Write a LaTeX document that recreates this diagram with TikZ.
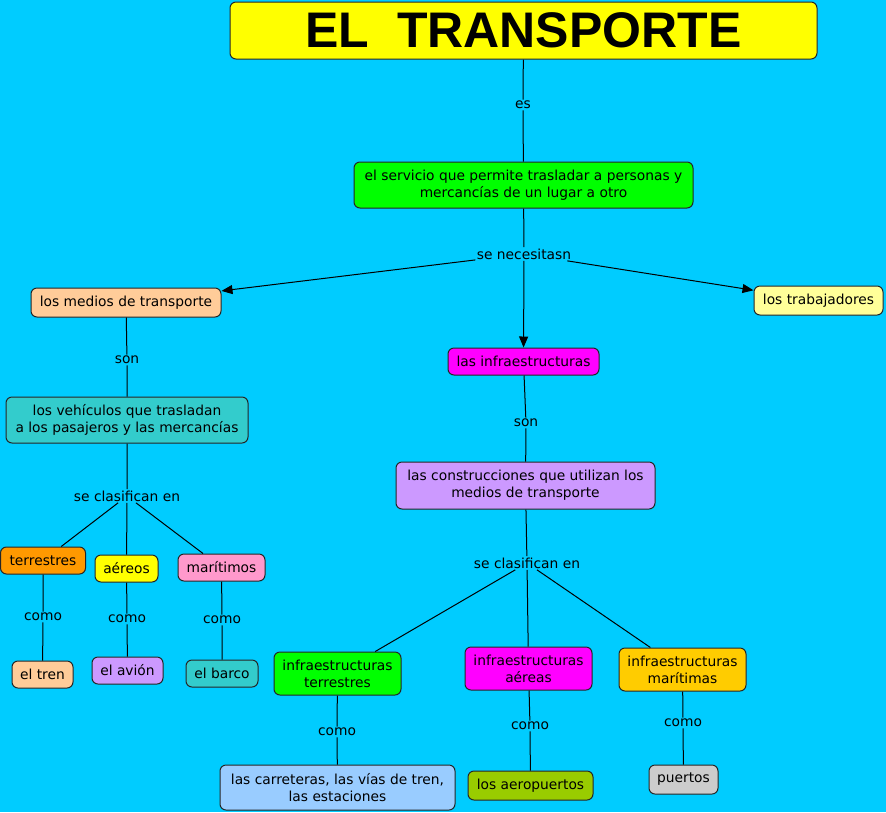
\documentclass[tikz,border=0pt]{standalone}
\usepackage{fontspec}
\setmainfont{DejaVu Sans}
\newfontfamily\titlefont{Liberation Sans}
\usetikzlibrary{arrows.meta}

\definecolor{fondo}{RGB}{0,204,255}
\definecolor{amarillo}{RGB}{255,255,0}
\definecolor{verde}{RGB}{0,255,0}
\definecolor{salmon}{RGB}{255,204,153}
\definecolor{crema}{RGB}{255,255,153}
\definecolor{magenta}{RGB}{255,0,255}
\definecolor{turquesa}{RGB}{51,204,204}
\definecolor{lila}{RGB}{204,153,255}
\definecolor{naranja}{RGB}{255,153,0}
\definecolor{rosa}{RGB}{255,153,204}
\definecolor{celeste}{RGB}{153,204,255}
\definecolor{oliva}{RGB}{153,204,0}
\definecolor{dorado}{RGB}{255,204,0}
\definecolor{gris}{RGB}{204,204,204}

\begin{document}
\begin{tikzpicture}[x=1pt, y=-1pt, line width=1pt,
    concepto/.style={draw=black!85, rounded corners=6pt, align=center,
        inner xsep=5pt, inner ysep=3pt, minimum height=27pt,
        font=\fontsize{13.8}{16.8}\selectfont},
    enlace/.style={inner sep=1pt, font=\fontsize{13.8}{16.8}\selectfont},
    flecha/.style={-{Triangle[length=11pt,width=9pt]}}]

    % Draw background
    \fill[fondo] (0,0) rectangle (886,812);
    \useasboundingbox (0,0) rectangle (886,812);

    % Draw title and first concepts
    \node[concepto, fill=amarillo, minimum width=587, minimum height=57,
        font=\titlefont\fontsize{50}{50}\selectfont\bfseries] (titulo) at (523.5,30.5) {EL\ \ TRANSPORTE};
    \node[concepto, fill=verde, minimum width=339, minimum height=46] (servicio) at (523.5,185)
        {el servicio que permite trasladar a personas y\\mercancías de un lugar a otro};
    \node[concepto, fill=salmon, minimum width=190, minimum height=29] (medios) at (126,302.5) {los medios de transporte};
    \node[concepto, fill=crema, minimum width=129, minimum height=29] (trabajadores) at (818.5,300.5) {los trabajadores};
    \node[concepto, fill=magenta, minimum width=151] (infra) at (523.5,361.5) {las infraestructuras};

    % Left branch: vehicles
    \node[concepto, fill=turquesa, minimum width=242, minimum height=46] (vehiculos) at (127,420)
        {los vehículos que trasladan\\a los pasajeros y las mercancías};
    \node[concepto, fill=naranja, minimum width=85] (terrestres) at (43,560.5) {terrestres};
    \node[concepto, fill=amarillo, minimum width=63] (aereos) at (126.5,568.5) {aéreos};
    \node[concepto, fill=rosa, minimum width=87] (maritimos) at (221.5,567.5) {marítimos};
    \node[concepto, fill=salmon, minimum width=61] (tren) at (42.5,674.5) {el tren};
    \node[concepto, fill=lila, minimum width=71] (avion) at (127.5,670.5) {el avión};
    \node[concepto, fill=turquesa, minimum width=72] (barco) at (222,673.5) {el barco};

    % Right branch: infrastructures
    \node[concepto, fill=lila, minimum width=259, minimum height=47] (construcciones) at (525.5,485.5)
        {las construcciones que utilizan los\\medios de transporte};
    \node[concepto, fill=verde, minimum width=127, minimum height=43] (iterr) at (337.5,673.5) {infraestructuras\\terrestres};
    \node[concepto, fill=magenta, minimum width=127, minimum height=43] (iaer) at (528.5,668.5) {infraestructuras\\aéreas};
    \node[concepto, fill=dorado, minimum width=127, minimum height=43] (imar) at (682.5,669.5) {infraestructuras\\marítimas};
    \node[concepto, fill=celeste, minimum width=235, minimum height=45] (carreteras) at (337.5,787.5)
        {las carreteras, las vías de tren,\\las estaciones};
    \node[concepto, fill=oliva, minimum width=125, minimum height=29] (aeropuertos) at (530.5,785.5) {los aeropuertos};
    \node[concepto, fill=gris, minimum width=69, minimum height=29] (puertos) at (683.5,779.5) {puertos};

    % Linking phrases
    \node[enlace] (es) at (523,105) {es};
    \node[enlace] (necesitan) at (524,254) {se necesitasn};
    \node[enlace] (son1) at (127,360) {son};
    \node[enlace] (clas1) at (127,496) {se clasifican en};
    \node[enlace] (como1) at (43,617) {como};
    \node[enlace] (como2) at (127,619) {como};
    \node[enlace] (como3) at (222,620) {como};
    \node[enlace] (son2) at (526,423) {son};
    \node[enlace] (clas2) at (527,563) {se clasifican en};
    \node[enlace] (como4) at (337,732) {como};
    \node[enlace] (como5) at (530,726) {como};
    \node[enlace] (como6) at (683,723) {como};

    % Draw connectors
    \draw (titulo) -- (es) -- (servicio) -- (necesitan);
    \draw[flecha] (necesitan) -- (medios);
    \draw[flecha] (necesitan) -- (trabajadores);
    \draw[flecha] (necesitan) -- (infra);

    \draw (medios) -- (son1) -- (vehiculos) -- (clas1);
    \draw (clas1) -- (terrestres);
    \draw (clas1) -- (aereos);
    \draw (clas1) -- (maritimos);
    \draw (terrestres) -- (como1) -- (tren);
    \draw (aereos) -- (como2) -- (avion);
    \draw (maritimos) -- (como3) -- (barco);

    \draw (infra) -- (son2) -- (construcciones) -- (clas2);
    \draw (clas2) -- (iterr);
    \draw (clas2) -- (iaer);
    \draw (clas2) -- (imar);
    \draw (iterr) -- (como4) -- (carreteras);
    \draw (iaer) -- (como5) -- (aeropuertos);
    \draw (imar) -- (como6) -- (puertos);
\end{tikzpicture}
\end{document}
